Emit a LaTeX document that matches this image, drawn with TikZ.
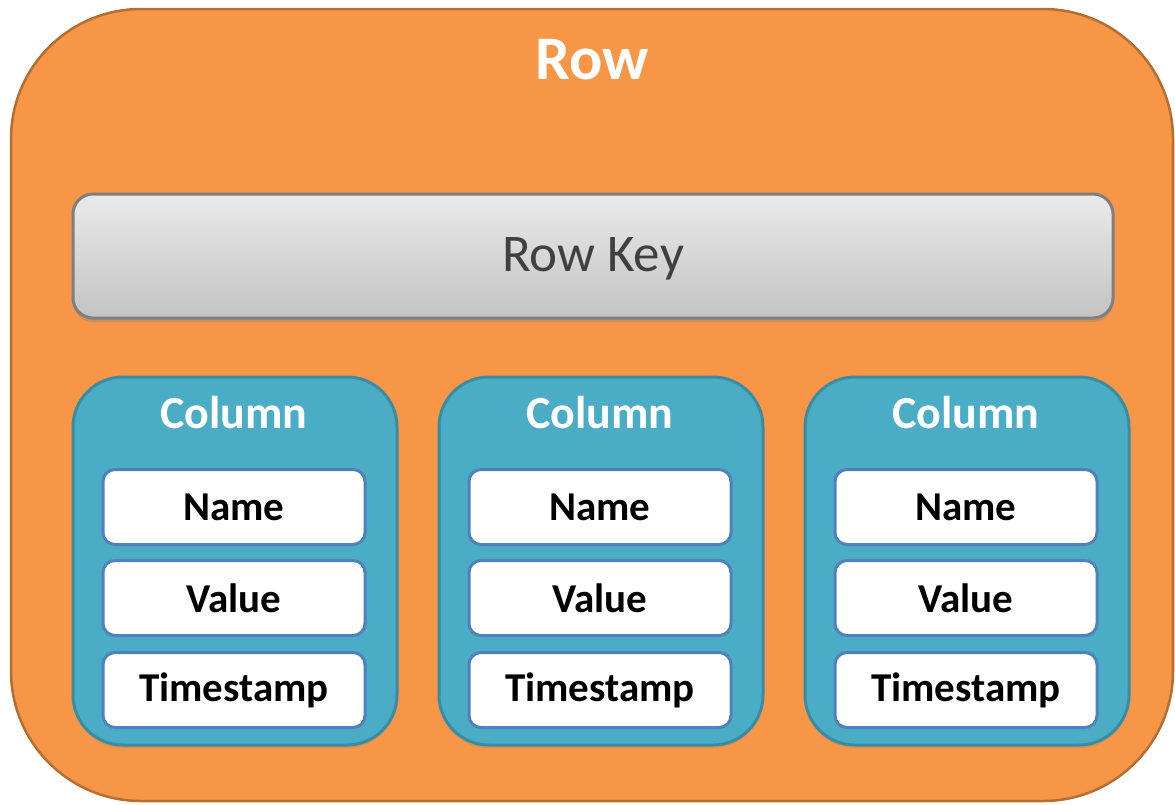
\documentclass[tikz,border=0pt]{standalone}
\usepackage{fontspec}
\setmainfont{Carlito}
\usetikzlibrary{shadows}
\definecolor{roworange}{HTML}{F79646}
\definecolor{rowedge}{HTML}{B66D31}
\definecolor{keyedge}{HTML}{7F7F7F}
\definecolor{keytop}{HTML}{EAEAEA}
\definecolor{keybot}{HTML}{C3C3C3}
\definecolor{colfill}{HTML}{4BACC6}
\definecolor{coledge}{HTML}{3A8CA4}
\definecolor{celledge}{HTML}{4F81BD}
\definecolor{keytext}{HTML}{404040}
\tikzset{
  rowbox/.style={draw=rowedge, line width=2.5pt, fill=roworange, rounded corners=130pt,
    minimum width=1162pt, minimum height=792pt, inner sep=0pt},
  keybox/.style={draw=keyedge, line width=3pt, top color=keytop, bottom color=keybot,
    rounded corners=20pt, minimum width=1040pt, minimum height=124pt, inner sep=0pt,
    drop shadow={opacity=0.35, shadow xshift=0pt, shadow yshift=-4pt}},
  keytitle/.style={text=keytext, font=\fontsize{53}{62}\selectfont, inner sep=0pt},
  colbox/.style={draw=coledge, line width=3pt, fill=colfill, rounded corners=50pt,
    minimum width=324pt, minimum height=368pt, inner sep=0pt,
    drop shadow={opacity=0.25, shadow xshift=0pt, shadow yshift=-3pt}},
  cellbox/.style={draw=celledge, line width=3pt, fill=white, rounded corners=12pt,
    minimum width=262pt, minimum height=75pt, inner sep=0pt,
    font=\bfseries\fontsize{41}{48}\selectfont},
  coltitle/.style={text=white, font=\bfseries\fontsize{46}{54}\selectfont, inner sep=0pt},
  rowtitle/.style={text=white, font=\bfseries\fontsize{62}{74}\selectfont, inner sep=0pt}
}
\begin{document}
\begin{tikzpicture}[x=1pt, y=-1pt]
  \useasboundingbox (0,0) rectangle (1175,804);
  \node[rowbox] (row) at (592,405) {};
  \node[rowtitle] (rowlabel) at (592,60) {Row};
  \node[keybox] (key) at (593,256) {};
  \node[keytitle] (keylabel) at (593,259) {Row Key};
  \foreach \i/\dx in {1/0, 2/366, 3/732} {
    \node[colbox] (col\i) at (235+\dx,561) {};
    \node[coltitle] (coltitle\i) at (234+\dx,413) {Column};
    \node[cellbox] (name\i) at (234+\dx,507) {Name};
    \node[cellbox] (value\i) at (234+\dx,598) {Value};
    \node[cellbox] (stamp\i) at (234+\dx,690) {Timestamp};
  }
\end{tikzpicture}
\end{document}
